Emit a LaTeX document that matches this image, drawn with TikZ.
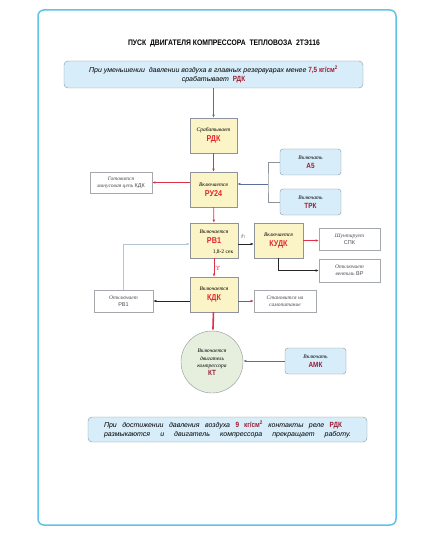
\documentclass[tikz,border=0pt]{standalone}
\usepackage{fontspec}
\usepackage{amssymb}
\setmainfont{Liberation Serif}
\setsansfont{Liberation Sans}
\newfontfamily\narrowsans[FakeStretch=0.85]{Liberation Sans}
\usetikzlibrary{arrows.meta}

\definecolor{framecyan}{HTML}{5CC4E6}
\definecolor{boxblue}{HTML}{D7EDF9}
\definecolor{boxyellow}{HTML}{FBF4C6}
\definecolor{boxgreen}{HTML}{E6EFDD}
\definecolor{edgegray}{HTML}{8E949A}
\definecolor{textgray}{HTML}{4A4A4A}
\definecolor{lblred}{HTML}{E3262D}
\definecolor{darkred}{HTML}{9E1B32}
\definecolor{linkred}{HTML}{E0304A}
\definecolor{linkblue}{HTML}{5A6E9E}
\definecolor{paleblue}{HTML}{B3C6D8}

\newcommand{\itx}[1]{{\fontsize{5.5}{6.5}\selectfont\itshape #1}}
\newcommand{\sx}[1]{{\sffamily\fontsize{5.5}{6.5}\selectfont #1}}
\newcommand{\lbl}[1]{{\narrowsans\bfseries\fontsize{8.5}{9}\selectfont\color{lblred}#1}}
\newcommand{\dlbl}[1]{{\narrowsans\bfseries\fontsize{7.5}{9}\selectfont\color{darkred}#1}}

\begin{document}
\begin{tikzpicture}[x=1pt,y=-1pt,>={Latex[length=3.2pt,width=2.6pt]},
  every node/.style={inner sep=1pt},
  ybox/.style={draw=edgegray,fill=boxyellow,minimum width=47pt,minimum height=35pt,
    align=center,font=\fontsize{6}{10}\selectfont},
  bbox/.style={draw=edgegray,fill=boxblue,rounded corners=3pt,minimum width=61pt,
    minimum height=26pt,align=center,font=\fontsize{6}{9}\selectfont},
  wbox/.style={draw=edgegray!80,fill=white,minimum width=61pt,minimum height=22pt,
    align=center,text=textgray,font=\fontsize{5.5}{7}\selectfont},
  notebox/.style={draw=edgegray,fill=boxblue,rounded corners=4pt,align=center,
    font=\sffamily\itshape\fontsize{7}{9}\selectfont},
  redlink/.style={->,draw=linkred,line width=0.6pt},
  boldlink/.style={->,draw=linkred,line width=1.6pt},
  bluelink/.style={->,draw=linkblue,line width=0.6pt},
  blacklink/.style={->,draw=black!85,line width=0.6pt}]
  \useasboundingbox (0,0) rectangle (435,537);
  \draw[framecyan,line width=1.5pt,rounded corners=6pt] (38,10) rectangle (396,525); % frame

  \node[font=\narrowsans\bfseries\fontsize{8}{9}\selectfont] (title) at (224,44)
    {ПУСК\ \ ДВИГАТЕЛЯ КОМПРЕССОРА\ \ ТЕПЛОВОЗА\ \ 2ТЭ116};

  \node[notebox,minimum width=299pt,minimum height=27pt] (start) at (213.5,74.5)
    {При уменьшении\ \ давлении воздуха в главных резервуарах менее {\upshape\dlbl{7,5 кг/см\textsuperscript{2}}}\\
     срабатывает\ \ {\upshape\dlbl{РДК}}};

  % main chain
  \node[ybox] (rdk)  at (213.5,135.5) {\itx{Срабатывает}\\\lbl{РДК}};
  \node[ybox] (ru24) at (213.5,189.5) {\itx{Включается}\\\lbl{РУ24}};
  \node[ybox,minimum width=48pt] (rv1)  at (214,240.5) {\itx{Включается}\\\lbl{РВ1}\\[-2pt]\mbox{}};
  \node[font=\fontsize{5.5}{6}\selectfont] (rvtime) at (223,252) {1,8-2 сек};
  \node[ybox,minimum width=49pt] (kudk) at (278.5,240.5) {\itx{Включается}\\\lbl{КУДК}};
  \node[ybox,minimum width=48pt] (kdk)  at (214,294.5) {\itx{Включается}\\\lbl{КДК}};
  \node[circle,draw=edgegray,fill=boxgreen,minimum size=62pt,align=center,
    font=\fontsize{5.5}{7.6}\selectfont] (kt) at (212,362)
    {\itx{Включается}\\\itx{двигатель}\\\itx{компрессора}\\\dlbl{КТ}};

  % side boxes
  \node[wbox,minimum width=62pt,minimum height=21pt] (gotov) at (121,182.5)
    {\itx{Готовится}\\\itx{минусовая цепь} \sx{КДК}};
  \node[bbox] (a5)  at (310.5,162) {\itx{Включать}\\\dlbl{А5}};
  \node[bbox] (trk) at (310.5,202) {\itx{Включать}\\\dlbl{ТРК}};
  \node[wbox] (spk) at (349.5,239) {\itx{Шунтирует}\\\sx{СПК}};
  \node[wbox,minimum height=23pt] (vr) at (349.5,270.5) {\itx{Отключает}\\\itx{вентиль} \sx{ВР}};
  \node[wbox,minimum width=59pt] (offrv1) at (123.5,301) {\itx{Отключает}\\\sx{РВ1}};
  \node[wbox,minimum width=62pt] (selfpow) at (285,301) {\itx{Становится на}\\\itx{самопитание}};
  \node[bbox] (amk) at (315.5,361) {\itx{Включать}\\\dlbl{АМК}};

  \node[notebox,minimum width=279pt,minimum height=25pt,align=left] (stop) at (227.5,429.5)
    {\makebox[238pt][s]{При достижении давления воздуха {\upshape\dlbl{9 кг/см\textsuperscript{2}}} контакты реле {\upshape\dlbl{РДК}}}\\
     \makebox[247pt][s]{размыкаются и двигатель компрессора прекращает работу.}};

  % contact marks
  \node[text=black!70,font=\fontsize{6}{6}\selectfont] (kudkmark) at (243,236) {$\pitchfork$};
  \node[text=lblred,font=\fontsize{6}{6}\selectfont] (kdkmark) at (218,268) {$\Upsilon$};

  % connectors
  \draw[bluelink] (start) -- (rdk);
  \draw[redlink] (rdk) -- (ru24);
  \draw[redlink] (ru24.west |- gotov.east) -- (gotov.east);
  \coordinate (bus) at (268,184);
  \draw[edgegray,line width=0.6pt] (a5.west) -| (bus) |- (trk.west);
  \draw[bluelink] (bus) -- (bus -| ru24.east);
  \draw[redlink] (ru24) -- (rv1);
  \draw[blacklink] ([yshift=-3.5pt]rv1.east) -- ([yshift=-3.5pt]kudk.west);
  \draw[boldlink] (kudk.east) -- (kudk.east -| spk.west);
  \draw[blacklink] (kudk.south) |- (vr.west);
  \draw[redlink] (rv1) -- (kdk);
  \draw[blacklink] (kdk.west |- offrv1.east) -- (offrv1.east);
  \draw[redlink] (kdk.east |- selfpow.west) -- (selfpow.west);
  \draw[->,paleblue,line width=0.6pt] (offrv1.north) |- ([yshift=-3.5pt]rv1.west);
  \draw[boldlink] (kdk) -- (kt);
  \draw[bluelink] (amk.west) -- (kt.east |- amk.west);
\end{tikzpicture}
\end{document}
